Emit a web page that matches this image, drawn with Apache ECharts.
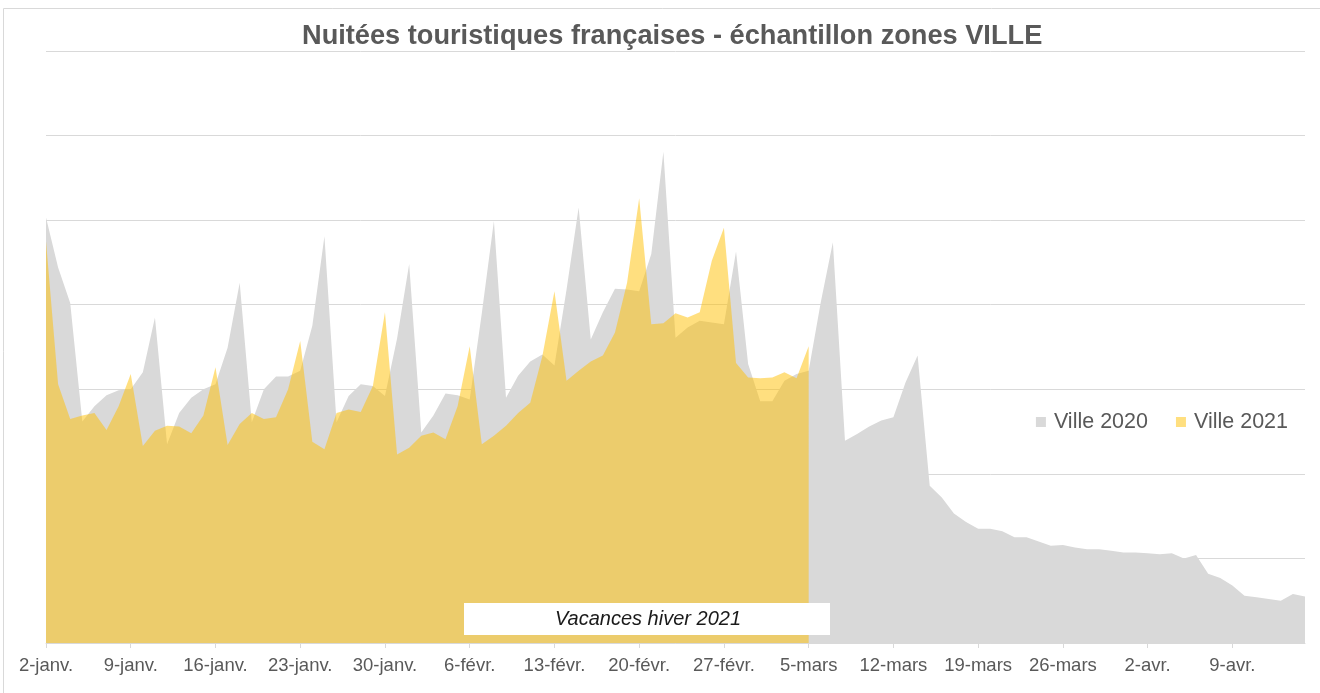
<!DOCTYPE html>
<html>
<head>
<meta charset="utf-8">
<title>Nuitées touristiques</title>
<script src="https://cdn.jsdelivr.net/npm/echarts@6/dist/echarts.min.js"></script>
<style>
  html, body { margin: 0; padding: 0; background: #fff; }
  #chart { width: 1320px; height: 693px; }
</style>
</head>
<body>
<div id="chart"></div>
<script>
  // axe des jours : 2-janv. -> 15-avr. (calendrier 2020, 29 févr. inclus)
  var mois = [['janv.', 2, 31], ['févr.', 1, 29], ['mars', 1, 31], ['avr.', 1, 15]];
  var jours = [];
  for (var m = 0; m < mois.length; m++) {
    for (var d = mois[m][1]; d <= mois[m][2]; d++) {
      jours.push(d + '-' + mois[m][0]);
    }
  }

  // valeurs (unités de quadrillage, sans échelle affichée)
  var ville2020 = [
    5.03, 4.44, 4.02, 2.62, 2.80, 2.93, 2.99, 3.00, 3.20, 3.85,
    2.35, 2.72, 2.90, 3.00, 3.06, 3.49, 4.26, 2.61, 3.00, 3.15,
    3.15, 3.22, 3.75, 4.81, 2.61, 2.92, 3.06, 3.04, 2.92, 3.60,
    4.48, 2.49, 2.69, 2.95, 2.93, 2.88, 3.90, 4.99, 2.90, 3.16,
    3.33, 3.41, 3.28, 4.18, 5.15, 3.59, 3.91, 4.19, 4.18, 4.16,
    4.60, 5.81, 3.61, 3.73, 3.81, 3.79, 3.77, 4.63, 3.30, 2.86,
    2.86, 3.10, 3.18, 3.22, 4.03, 4.74, 2.39, 2.47, 2.56, 2.63,
    2.67, 3.08, 3.40, 1.86, 1.72, 1.53, 1.43, 1.35, 1.35, 1.32,
    1.25, 1.25, 1.20, 1.15, 1.16, 1.13, 1.11, 1.11, 1.09, 1.07,
    1.07, 1.06, 1.05, 1.06, 1.00, 1.04, 0.82, 0.77, 0.68, 0.56,
    0.54, 0.52, 0.50, 0.58, 0.55
  ];
  var ville2021 = [
    4.75, 3.06, 2.65, 2.69, 2.72, 2.52, 2.80, 3.18, 2.33, 2.51,
    2.57, 2.56, 2.48, 2.69, 3.26, 2.34, 2.59, 2.72, 2.65, 2.67,
    3.00, 3.57, 2.38, 2.29, 2.72, 2.76, 2.73, 3.04, 3.91, 2.23,
    2.31, 2.45, 2.49, 2.41, 2.80, 3.51, 2.35, 2.45, 2.57, 2.72,
    2.84, 3.39, 4.16, 3.10, 3.22, 3.33, 3.40, 3.67, 4.26, 5.26,
    3.77, 3.78, 3.90, 3.85, 3.91, 4.52, 4.91, 3.31, 3.14, 3.13,
    3.14, 3.20, 3.13, 3.51
  ];

  var police = '"Liberation Sans", Arial, sans-serif';
  var gris = '#595959';

  var option = {
    animation: false,
    title: {
      text: 'Nuitées touristiques françaises - échantillon zones VILLE',
      left: 302,
      top: 23,
      padding: 0,
      textStyle: { fontFamily: police, fontSize: 27.2, fontWeight: 'bold', color: gris }
    },
    legend: {
      data: ['Ville 2020', 'Ville 2021'],
      right: 27,
      top: 406,
      icon: 'rect',
      itemWidth: 10,
      itemHeight: 10,
      itemGap: 28,
      textStyle: { fontFamily: police, fontSize: 21.5, color: gris, padding: [0, 0, 0, 3] }
    },
    grid: { left: 46, right: 15, top: 51, bottom: 50 },
    xAxis: {
      type: 'category',
      data: jours,
      boundaryGap: false,
      axisLine: { lineStyle: { color: '#d9d9d9' } },
      axisTick: { interval: 6, length: 5, lineStyle: { color: '#d9d9d9' } },
      axisLabel: { interval: 6, margin: 13, fontFamily: police, fontSize: 18.5, color: gris }
    },
    yAxis: {
      type: 'value',
      min: 0,
      max: 7,
      interval: 1,
      axisLabel: { show: false },
      axisLine: { show: false },
      axisTick: { show: false },
      splitLine: { lineStyle: { color: '#d9d9d9' } }
    },
    series: [
      {
        name: 'Ville 2020',
        type: 'line',
        data: ville2020,
        showSymbol: false,
        color: '#d9d9d9',
        lineStyle: { width: 0, opacity: 0 },
        areaStyle: { color: '#d9d9d9', opacity: 1 }
      },
      {
        name: 'Ville 2021',
        type: 'line',
        data: ville2021,
        showSymbol: false,
        color: 'rgba(255,192,0,0.5)',
        lineStyle: { width: 0, opacity: 0 },
        areaStyle: { color: 'rgba(255,192,0,0.5)', opacity: 1 }
      }
    ],
    graphic: [
      {
        // cadre du graphique
        type: 'rect',
        z: 0,
        silent: true,
        shape: { x: 3.5, y: 8.5, width: 1340, height: 720 },
        style: { fill: 'none', stroke: '#d9d9d9', lineWidth: 1 }
      },
      {
        // zone de texte "Vacances hiver 2021"
        type: 'rect',
        z: 100,
        silent: true,
        shape: { x: 464, y: 603, width: 366, height: 32 },
        style: { fill: '#ffffff' }
      },
      {
        type: 'text',
        z: 101,
        silent: true,
        x: 648,
        y: 619,
        style: {
          text: 'Vacances hiver 2021',
          fontFamily: police,
          fontSize: 20,
          fontStyle: 'italic',
          fill: '#1a1a1a',
          align: 'center',
          verticalAlign: 'middle'
        }
      }
    ]
  };

  var chart = echarts.init(document.getElementById('chart'));
  chart.setOption(option);
</script>
</body>
</html>
